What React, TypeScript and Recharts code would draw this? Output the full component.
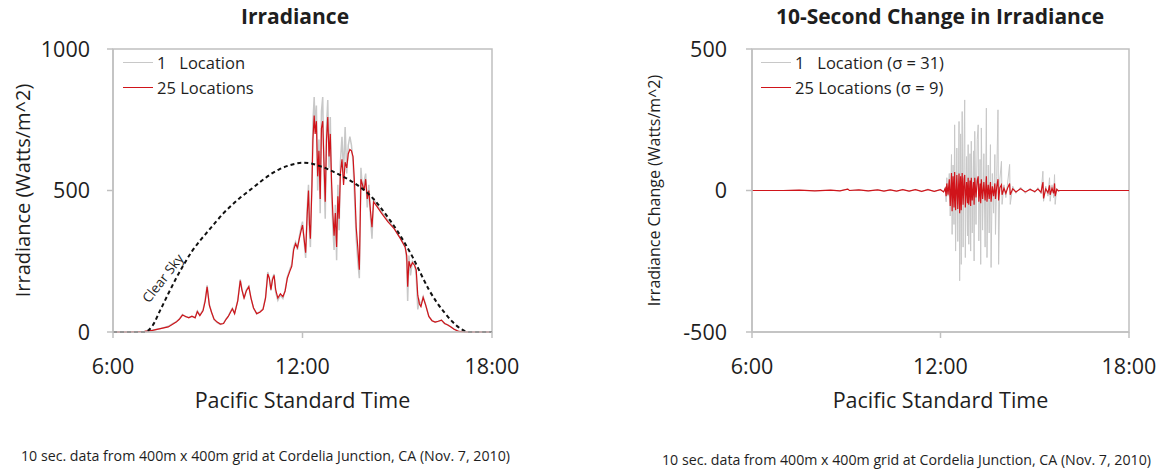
import React from "react"
import { LineChart, Line, XAxis, YAxis, Legend, ReferenceArea, ReferenceDot } from "recharts"

const FONT = "'Open Sans', Lato, sans-serif"
const AXIS = "#c0c0c0"
const GRAY = "#c8c8c8"
const RED = "#d0141a"
const INK = "#1e1e1e"

// Irradiance (hours, W/m^2)
const irrTimes = [
  6.0, 6.5, 7.0, 7.25, 7.5, 7.75, 7.9, 8.0, 8.1, 8.2, 8.3, 8.4, 8.5, 8.6, 8.67, 8.75, 8.85, 8.92, 8.98, 9.05,
  9.12, 9.2, 9.3, 9.4, 9.5, 9.58, 9.65, 9.72, 9.78, 9.85, 9.95, 10.03, 10.08, 10.15, 10.22, 10.3, 10.37, 10.45, 10.55, 10.65,
  10.75, 10.83, 10.9, 10.95, 11.0, 11.05, 11.1, 11.15, 11.22, 11.3, 11.38, 11.45, 11.52, 11.6, 11.66, 11.72, 11.78, 11.84, 11.9, 11.96,
  12.0, 12.05, 12.1, 12.15, 12.19, 12.22, 12.25, 12.3, 12.33, 12.37, 12.4, 12.44, 12.48, 12.52, 12.56, 12.6, 12.64, 12.68, 12.72, 12.76,
  12.8, 12.84, 12.88, 12.92, 12.96, 13.0, 13.04, 13.08, 13.12, 13.16, 13.2, 13.25, 13.3, 13.35, 13.4, 13.45, 13.5, 13.55, 13.6, 13.65,
  13.7, 13.75, 13.8, 13.85, 13.9, 13.95, 14.0, 14.05, 14.1, 14.15, 14.2, 14.25, 14.35, 14.5, 14.7, 14.9, 15.1, 15.25, 15.3, 15.33,
  15.37, 15.42, 15.48, 15.55, 15.6, 15.65, 15.7, 15.75, 15.82, 15.9, 16.0, 16.1, 16.2, 16.3, 16.4, 16.5, 16.6, 16.7, 16.8, 16.95,
  17.2, 18.0,
]
const irrTwentyFive = [
  0, 0, 2, 6, 12, 18, 28, 35, 45, 60, 55, 50, 56, 50, 72, 58, 75, 110, 160, 95,
  70, 45, 35, 28, 30, 45, 55, 70, 82, 65, 110, 182, 150, 120, 145, 160, 120, 85, 65, 70,
  80, 120, 205, 190, 150, 185, 200, 150, 120, 135, 125, 145, 190, 215, 232, 290, 312, 298, 330, 360,
  378, 330, 280, 420, 500, 380, 330, 520, 680, 765, 700, 745, 550, 640, 470, 720, 745, 600, 460, 680,
  760, 620, 700, 530, 420, 340, 420, 300, 480, 400, 560, 610, 520, 600, 580, 630, 645, 640, 620, 520,
  370, 300, 220, 540, 520, 500, 540, 470, 500, 430, 370, 460, 445, 420, 390, 365, 330, 300, 270, 160,
  250, 230, 245, 235, 220, 130, 100, 90, 122, 95, 55, 40, 35, 38, 42, 30, 25, 18, 10, 2,
  0, 0,
]
const irrOne = [
  0, 0, 2, 6, 12, 20, 30, 36, 46, 62, 54, 52, 55, 52, 74, 60, 78, 115, 165, 98,
  70, 44, 33, 27, 31, 46, 56, 72, 84, 66, 112, 186, 152, 118, 148, 162, 118, 84, 64, 72,
  82, 124, 212, 188, 146, 190, 205, 140, 112, 130, 118, 148, 195, 222, 240, 300, 318, 290, 338, 372,
  390, 322, 262, 440, 520, 360, 300, 560, 740, 830, 720, 800, 500, 680, 420, 780, 830, 560, 400, 720,
  820, 580, 760, 480, 370, 290, 450, 254, 520, 360, 600, 690, 560, 724, 560, 660, 690, 660, 600, 470,
  330, 250, 190, 580, 500, 530, 560, 440, 520, 410, 330, 470, 450, 425, 395, 368, 332, 305, 250, 110,
  270, 200, 250, 240, 200, 80, 110, 95, 125, 96, 55, 40, 35, 38, 42, 30, 25, 18, 10, 2,
  0, 0,
]

const clearTimes = [
  6.0, 7.0, 7.25, 7.5, 7.75, 8.0, 8.25, 8.5, 8.75, 9.0, 9.25, 9.5, 9.75, 10.0, 10.25, 10.5, 10.75, 11.0, 11.25, 11.5,
  11.75, 12.0, 12.25, 12.5, 12.75, 13.0, 13.25, 13.5, 13.75, 14.0, 14.25, 14.5, 14.75, 15.0, 15.25, 15.5, 15.75, 16.0, 16.25, 16.5,
  16.75, 17.0, 17.25, 18.0,
]
const clearSky = [
  0, 0, 22, 78, 135, 190, 240, 285, 322, 355, 388, 420, 447, 472, 494, 516, 538, 558, 574, 586,
  594, 598, 596, 588, 578, 565, 551, 536, 518, 497, 470, 436, 398, 358, 312, 262, 205, 150, 105, 68,
  36, 12, 0, 0,
]

// 10-second change in irradiance (hours, W/m^2)
const chgTimes = [
  6.0, 7.0, 7.5, 8.0, 8.5, 8.8, 9.05, 9.1, 9.4, 9.7, 10.0, 10.2, 10.4, 10.6, 10.8, 11.0, 11.2, 11.4, 11.6, 11.8,
  12.0, 12.1, 12.15, 12.18, 12.2, 12.24, 12.28, 12.31, 12.35, 12.37, 12.4, 12.43, 12.45, 12.48, 12.52, 12.55, 12.59, 12.61, 12.64, 12.66,
  12.69, 12.72, 12.75, 12.77, 12.79, 12.83, 12.86, 12.88, 12.9, 12.94, 12.96, 12.98, 13.01, 13.05, 13.07, 13.09, 13.13, 13.17, 13.2, 13.22,
  13.26, 13.28, 13.3, 13.34, 13.38, 13.42, 13.46, 13.48, 13.52, 13.55, 13.59, 13.61, 13.65, 13.69, 13.73, 13.75, 13.79, 13.83, 13.85, 13.89,
  13.94, 13.96, 14.02, 14.08, 14.14, 14.2, 14.22, 14.3, 14.4, 14.55, 14.7, 14.85, 15.0, 15.1, 15.2, 15.26, 15.28, 15.35, 15.42, 15.47,
  15.49, 15.55, 15.6, 15.63, 15.65, 15.7, 15.75, 15.8, 16.0, 18.0,
]
const chgOne = [
  0, 0, 1, -1, 1, -1, 6, 0, 2, -2, 3, -2, 3, -3, 4, -3, 4, -4, 5, -4,
  4, -6, 10, -40, 45, -20, 60, -90, 127, -155, 90, -120, 232, -214, 150, -180, 244, -319, 200, -261,
  279, -200, 150, 320, -237, 120, -160, 162, -190, 130, -214, 174, -150, 140, -249, 209, -120, 180, 232, -178,
  110, -261, 221, -140, 130, -200, 291, -237, 90, -150, 162, -272, 60, -80, 127, -155, 50, 285, -261, 40,
  103, -49, 20, -25, 30, 92, -49, 15, -10, 12, -10, 8, -8, 10, -12, 68, -38, 15, -20, 45,
  -38, 20, -25, 56, -49, 8, -2, 0, 0, 0,
]
const chgTwentyFive = [
  0, 0, 1, -1, 1, -1, 5, 0, 2, -1, 2, -2, 2, -2, 3, -2, 3, -3, 3, -3,
  3, -5, 8, -20, 25, -15, 40, -55, 62, -73, 50, -60, 65, -70, 55, -65, 60, -80, 50, -70,
  62, -50, 40, 55, -60, 30, -45, 45, -50, 35, -55, 45, -35, 30, -50, 45, -25, 35, 50, -40,
  25, -45, 40, -30, 30, -35, 50, -40, 20, -30, 30, -40, 15, -20, 25, -30, 12, 40, -35, 10,
  20, -15, 8, -10, 10, 25, -15, 6, -5, 6, -5, 4, -4, 5, -6, 30, -28, 6, -8, 18,
  -15, 8, -10, 25, -20, 4, -1, 0, 0, 0,
]

const hourTicks = [6, 12, 18]
const irrTicks = [0, 500, 1000]
const chgTicks = [-500, 0, 500]

type Row = { t: number; one?: number; tf?: number; clear?: number }

function buildIrr(): Row[] {
  const m = new Map<number, Row>()
  irrTimes.forEach((t, i) => m.set(t, { t, one: irrOne[i], tf: irrTwentyFive[i] }))
  clearTimes.forEach((t, i) => {
    const r = m.get(t) || { t }
    r.clear = clearSky[i]
    m.set(t, r)
  })
  return Array.from(m.values()).sort((a, b) => a.t - b.t)
}

const irrData = buildIrr()
const chgData = chgTimes.map((t, i) => ({ t, one: chgOne[i], tf: chgTwentyFive[i] }))

const hourFmt = (h: number) => `${h}:00`

function LegendBox({ payload }: any) {
  const items = (payload || []).filter((p: any) => p.type !== "none")
  return (
    <div style={{ fontSize: 16.5, color: INK, lineHeight: "25px", fontFamily: FONT }}>
      {items.map((p: any, i: number) => (
        <div key={i} style={{ display: "flex", alignItems: "center", whiteSpace: "pre" }}>
          <span style={{ display: "inline-block", width: 30, borderTop: `1.5px solid ${p.color}`, marginRight: 4 }} />
          <span>{p.value}</span>
        </div>
      ))}
    </div>
  )
}

const tickStyle = { fontSize: 21.5, fill: INK }

function IrradianceChart() {
  return (
    <LineChart width={560} height={420} data={irrData} margin={{ top: 49, right: 68, bottom: 8, left: 0 }}>
      <ReferenceArea x1={6} x2={18} y1={0} y2={1000} fill="none" stroke={AXIS} strokeWidth={1.5} />
      <XAxis
        dataKey="t"
        type="number"
        domain={[6, 18]}
        ticks={hourTicks}
        tickFormatter={hourFmt}
        height={80}
        tick={tickStyle}
        tickSize={6}
        tickMargin={21}
        stroke={AXIS}
        strokeWidth={1.5}
        label={{ value: "Pacific Standard Time", position: "insideBottom", offset: 4, fontSize: 21.5, fill: INK }}
      />
      <YAxis
        type="number"
        domain={[0, 1000]}
        ticks={irrTicks}
        width={113}
        tick={tickStyle}
        tickSize={6}
        tickMargin={17}
        stroke={AXIS}
        strokeWidth={1.5}
        label={{
          value: "Irradiance (Watts/m^2)",
          angle: -90,
          position: "insideLeft",
          offset: 23,
          fontSize: 20,
          fill: INK,
          style: { textAnchor: "middle" },
        }}
      />
      <Legend
        layout="horizontal"
        align="center"
        verticalAlign="middle"
        content={<LegendBox />}
        wrapperStyle={{ left: 123, top: 50, width: "auto" }}
      />
      <Line name="1   Location" dataKey="one" stroke={GRAY} strokeWidth={1.5} dot={false} connectNulls isAnimationActive={false} />
      <Line name="25 Locations" dataKey="tf" stroke={RED} strokeWidth={1.2} dot={false} connectNulls isAnimationActive={false} />
      <Line
        name="Clear Sky"
        legendType="none"
        type="monotone"
        dataKey="clear"
        stroke="#111"
        strokeWidth={2}
        strokeDasharray="4 3"
        dot={false}
        connectNulls
        isAnimationActive={false}
      />
      <ReferenceDot
        x={7.58}
        y={190}
        r={1}
        fill="none"
        stroke="none"
        label={{ value: "Clear Sky", position: "center", angle: -52, fontSize: 13.5, fill: INK }}
      />
    </LineChart>
  )
}

function ChangeChart() {
  return (
    <LineChart width={560} height={420} data={chgData} margin={{ top: 49, right: 31, bottom: 8, left: 0 }}>
      <ReferenceArea x1={6} x2={18} y1={-500} y2={500} fill="none" stroke={AXIS} strokeWidth={1.5} />
      <XAxis
        dataKey="t"
        type="number"
        domain={[6, 18]}
        ticks={hourTicks}
        tickFormatter={hourFmt}
        height={80}
        tick={tickStyle}
        tickSize={6}
        tickMargin={21}
        stroke={AXIS}
        strokeWidth={1.5}
        label={{ value: "Pacific Standard Time", position: "insideBottom", offset: 4, fontSize: 21.5, fill: INK }}
      />
      <YAxis
        type="number"
        domain={[-500, 500]}
        ticks={chgTicks}
        width={152}
        tick={tickStyle}
        tickSize={6}
        tickMargin={19}
        stroke={AXIS}
        strokeWidth={1.5}
        label={{
          value: "Irradiance Change (Watts/m^2)",
          angle: -90,
          position: "insideLeft",
          offset: 54,
          fontSize: 16,
          fill: INK,
          style: { textAnchor: "middle" },
        }}
      />
      <Legend
        layout="horizontal"
        align="center"
        verticalAlign="middle"
        content={<LegendBox />}
        wrapperStyle={{ left: 161, top: 50, width: "auto" }}
      />
      <Line name="1   Location (σ = 31)" dataKey="one" stroke={GRAY} strokeWidth={1} dot={false} isAnimationActive={false} />
      <Line name="25 Locations (σ = 9)" dataKey="tf" stroke={RED} strokeWidth={1.2} dot={false} isAnimationActive={false} />
    </LineChart>
  )
}

const footer = "10 sec. data from 400m x 400m grid at Cordelia Junction, CA (Nov. 7, 2010)"

export default function App() {
  return (
    <div style={{ position: "absolute", left: 0, top: 0, width: 1163, height: 472, background: "#fff", fontFamily: FONT, color: INK }}>
      <div style={{ position: "absolute", left: 145, width: 300, top: 4, textAlign: "center", fontWeight: 700, fontSize: 21, lineHeight: "25px" }}>
        Irradiance
      </div>
      <div style={{ position: "absolute", left: 740, width: 400, top: 4, textAlign: "center", fontWeight: 700, fontSize: 21, lineHeight: "25px" }}>
        10-Second Change in Irradiance
      </div>
      <div style={{ position: "absolute", left: 0, top: 0 }}>
        <IrradianceChart />
      </div>
      <div style={{ position: "absolute", left: 600, top: 0 }}>
        <ChangeChart />
      </div>
      <div style={{ position: "absolute", left: 21, top: 447, fontSize: 14.2, lineHeight: "18px", whiteSpace: "nowrap" }}>{footer}</div>
      <div style={{ position: "absolute", left: 662, top: 451, fontSize: 14.2, lineHeight: "18px", whiteSpace: "nowrap" }}>{footer}</div>
    </div>
  )
}
